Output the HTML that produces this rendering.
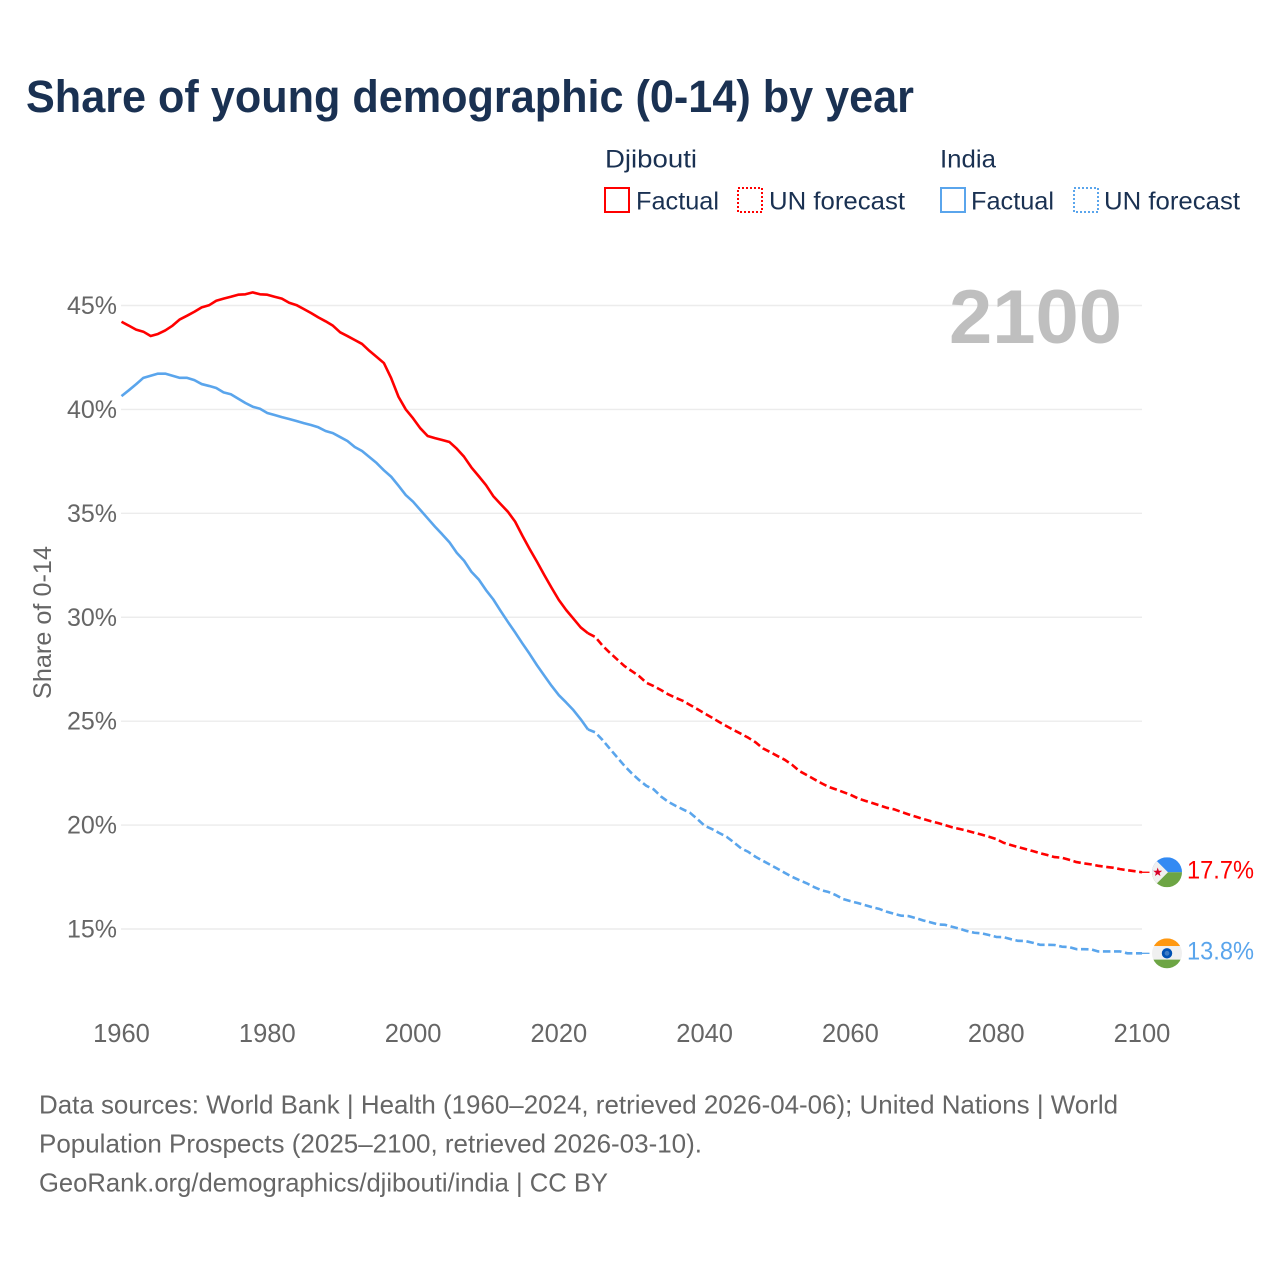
<!DOCTYPE html>
<html lang="en">
<head>
<meta charset="utf-8">
<title>Share of young demographic (0-14) by year</title>
<style>
html,body{margin:0;padding:0;background:#fff;width:1280px;height:1280px;overflow:hidden}
svg{display:block}
text{font-family:"Liberation Sans",sans-serif}
</style>
</head>
<body>
<svg id="chart" xmlns="http://www.w3.org/2000/svg" width="1280" height="1280" viewBox="0 0 1280 1280">
  <defs>
    <clipPath id="flag-clip-dj"><circle id="clip-dj" cx="1167" cy="872" r="15"/></clipPath>
    <clipPath id="flag-clip-in"><circle id="clip-in" cx="1167" cy="953" r="15"/></clipPath>
  </defs>
  <text x="26" y="112" font-size="45" font-weight="700" fill="#1a3152" textLength="888" lengthAdjust="spacingAndGlyphs">Share of young demographic (0-14) by year</text>

  <g font-size="25" fill="#1a3152">
    <text x="605" y="167.5" textLength="92" lengthAdjust="spacingAndGlyphs">Djibouti</text>
    <text x="940" y="167.5" textLength="56" lengthAdjust="spacingAndGlyphs">India</text>
    <rect x="605" y="188" width="24" height="24" fill="none" stroke="#ff0000" stroke-width="2"/>
    <text x="636" y="209.5" textLength="83" lengthAdjust="spacingAndGlyphs">Factual</text>
    <rect x="738" y="188" width="24" height="24" fill="none" stroke="#ff0000" stroke-width="2" stroke-dasharray="2 2"/>
    <text x="769" y="209.5" textLength="136" lengthAdjust="spacingAndGlyphs">UN forecast</text>
    <rect x="941" y="188" width="24" height="24" fill="none" stroke="#5aa5ec" stroke-width="2"/>
    <text x="971" y="209.5" textLength="83" lengthAdjust="spacingAndGlyphs">Factual</text>
    <rect x="1074" y="188" width="24" height="24" fill="none" stroke="#5aa5ec" stroke-width="2" stroke-dasharray="2 2"/>
    <text x="1104" y="209.5" textLength="136" lengthAdjust="spacingAndGlyphs">UN forecast</text>
  </g>

  <g id="grid"></g>
  <g id="ytick"></g>
  <g id="xtick"></g>

  <text x="949" y="343" font-size="76" font-weight="700" fill="#bfbfbf" textLength="173" lengthAdjust="spacingAndGlyphs">2100</text>
  <text transform="translate(51,699) rotate(-90)" font-size="25" fill="#666666" textLength="153" lengthAdjust="spacingAndGlyphs">Share of 0-14</text>

  <g id="lines"></g>

  <g id="flag-dj" clip-path="url(#flag-clip-dj)"></g>
  <g id="flag-in" clip-path="url(#flag-clip-in)"></g>
  <g id="endlabels"></g>

  <g font-size="26" fill="#666666">
    <text x="39" y="1113.5" textLength="1079" lengthAdjust="spacingAndGlyphs">Data sources: World Bank | Health (1960–2024, retrieved 2026-04-06); United Nations | World</text>
    <text x="39" y="1152.5" textLength="663" lengthAdjust="spacingAndGlyphs">Population Prospects (2025–2100, retrieved 2026-03-10).</text>
    <text x="39" y="1191.5" textLength="569" lengthAdjust="spacingAndGlyphs">GeoRank.org/demographics/djibouti/india | CC BY</text>
  </g>
</svg>
<script>
const xTicks = [1960, 1980, 2000, 2020, 2040, 2060, 2080, 2100];
const yTicks = [15, 20, 25, 30, 35, 40, 45];
const factualStartYear = 1960;
const forecastStartYear = 2025;
const djiboutiFactual = [
  44.22,44.03,43.84,43.74,43.53,43.63,43.80,44.03,44.33,44.51,
  44.70,44.91,45.01,45.23,45.33,45.42,45.52,45.54,45.63,45.54,
  45.52,45.42,45.33,45.13,45.02,44.83,44.64,44.43,44.24,44.03,
  43.71,43.53,43.34,43.15,42.82,42.53,42.23,41.50,40.61,40.00,
  39.57,39.09,38.72,38.62,38.53,38.43,38.11,37.72,37.21,36.79,
  36.36,35.83,35.45,35.08,34.60,33.92,33.28,32.67,32.03,31.42,
  30.83,30.35,29.93,29.51,29.23
];
const djiboutiForecast = [
  29.05,28.63,28.29,27.97,27.65,
  27.41,27.17,26.85,26.69,26.50,26.29,26.13,25.98,25.78,25.58,
  25.37,25.17,24.96,24.76,24.57,24.39,24.20,23.98,23.69,23.51,
  23.32,23.14,22.90,22.60,22.41,22.21,22.02,21.84,21.72,21.59,
  21.46,21.29,21.17,21.06,20.95,20.83,20.76,20.63,20.51,20.40,
  20.29,20.19,20.10,20.00,19.89,19.81,19.73,19.63,19.54,19.44,
  19.33,19.15,19.04,18.94,18.85,18.75,18.65,18.56,18.46,18.43,
  18.33,18.22,18.16,18.11,18.04,17.99,17.95,17.88,17.83,17.78,
  17.73
];
const indiaFactual = [
  40.64,40.92,41.21,41.52,41.62,41.72,41.72,41.62,41.52,41.52,
  41.41,41.22,41.13,41.03,40.82,40.73,40.52,40.31,40.13,40.03,
  39.83,39.73,39.63,39.54,39.44,39.34,39.25,39.14,38.96,38.86,
  38.67,38.48,38.19,38.00,37.71,37.42,37.07,36.76,36.33,35.88,
  35.56,35.16,34.76,34.36,33.99,33.60,33.10,32.72,32.19,31.82,
  31.31,30.86,30.31,29.78,29.27,28.74,28.23,27.69,27.19,26.70,
  26.25,25.90,25.53,25.09,24.60
];
const indiaForecast = [
  24.46,24.09,23.67,23.26,22.85,
  22.49,22.17,21.89,21.72,21.38,21.12,20.93,20.76,20.59,20.29,
  19.97,19.81,19.62,19.44,19.17,18.88,18.71,18.47,18.28,18.09,
  17.90,17.70,17.51,17.35,17.20,17.02,16.87,16.78,16.63,16.44,
  16.34,16.25,16.15,16.05,15.96,15.83,15.73,15.64,15.62,15.52,
  15.41,15.32,15.22,15.20,15.10,15.01,14.90,14.82,14.79,14.71,
  14.62,14.61,14.51,14.43,14.42,14.34,14.24,14.24,14.23,14.15,
  14.13,14.03,14.03,14.02,13.92,13.92,13.92,13.92,13.83,13.83,
  13.83
];

const NS = 'http://www.w3.org/2000/svg';
const RED = '#ff0000';
const BLUE = '#5aa5ec';
const GREY = '#666666';
const FLAG_X = 1167;

function xScale(year) { return 121.5 + (year - 1960) * (1142 - 121.5) / 140; }
function yScale(pct) { return 305.5 + (45 - pct) * (929 - 305.5) / 30; }

function make(tag, attrs, parent) {
  const el = document.createElementNS(NS, tag);
  for (const k in attrs) el.setAttribute(k, attrs[k]);
  parent.appendChild(el);
  return el;
}

function pathFrom(values, startYear, joinYear, joinValue) {
  const pts = values.map((v, i) => xScale(startYear + i).toFixed(2) + ' ' + yScale(v).toFixed(2));
  if (joinYear !== undefined) pts.unshift(xScale(joinYear).toFixed(2) + ' ' + yScale(joinValue).toFixed(2));
  return 'M' + pts.join('L');
}

const gridLayer = document.getElementById('grid');
const yLayer = document.getElementById('ytick');
const xLayer = document.getElementById('xtick');
const lineLayer = document.getElementById('lines');
const labelLayer = document.getElementById('endlabels');

yTicks.forEach(function (t) {
  const line = make('line', { x1: 121, x2: 1142, y1: yScale(t), y2: yScale(t), stroke: '#ececec', 'stroke-width': 1.4 }, gridLayer);
  
  
  const label = make('text', { x: 117, y: yScale(t) + 8.5, 'text-anchor': 'end', 'font-size': 25, fill: GREY }, yLayer);
  label.textContent = t + '%';
  
  
});

xTicks.forEach(function (t) {
  const label = make('text', { x: xScale(t), y: 1042, 'text-anchor': 'middle', 'font-size': 25.5, fill: GREY }, xLayer);
  label.textContent = t;
  
  
});

function drawSeries(factual, forecast, color) {
  const lastFactual = factual[factual.length - 1];
  const lastFactualYear = factualStartYear + factual.length - 1;
  const solid = make('path', { d: pathFrom(factual, factualStartYear), fill: 'none', stroke: color, 'stroke-width': 2.6, 'stroke-linejoin': 'round' }, lineLayer);
  
  
  const dashed = make('path', { d: pathFrom(forecast, forecastStartYear, lastFactualYear, lastFactual), fill: 'none', stroke: color, 'stroke-width': 2.6, 'stroke-dasharray': '7.5 3.6', 'stroke-linejoin': 'round' }, lineLayer);
  
  
  const endV = forecast[forecast.length - 1];
  const connector = make('line', { x1: xScale(2100), x2: 1149.5, y1: yScale(endV), y2: yScale(endV), stroke: color, 'stroke-width': 1.3 }, lineLayer);
  
  
  const label = make('text', { x: 1187, y: yScale(endV) + 6.2, 'font-size': 25, fill: color, textLength: 67, lengthAdjust: 'spacingAndGlyphs' }, labelLayer);
  label.textContent = endV.toFixed(1) + '%';
  
  
  return yScale(endV);
}

const djY = drawSeries(djiboutiFactual, djiboutiForecast, RED);
const inY = drawSeries(indiaFactual, indiaForecast, BLUE);

document.getElementById('clip-dj').setAttribute('cy', djY);
document.getElementById('clip-in').setAttribute('cy', inY);

const fd = document.getElementById('flag-dj');
const fi = document.getElementById('flag-in');

const djBlue = make('rect', { x: FLAG_X - 15, y: djY - 15, width: 30, height: 15, fill: '#338af3' }, fd);


const djGreen = make('rect', { x: FLAG_X - 15, y: djY, width: 30, height: 15, fill: '#6da544' }, fd);


const djTri = make('path', { d: 'M' + (FLAG_X - 16) + ' ' + (djY - 17) + 'L' + (FLAG_X + 1) + ' ' + djY + 'L' + (FLAG_X - 16) + ' ' + (djY + 17) + 'Z', fill: '#f0f0f0' }, fd);


let starPts = [];
for (let i = 0; i < 10; i++) {
  const r = i % 2 ? 1.9 : 4.7;
  const a = -Math.PI / 2 + i * Math.PI / 5;
  starPts.push((FLAG_X - 9.3 + r * Math.cos(a)).toFixed(2) + ',' + (djY + r * Math.sin(a)).toFixed(2));
}
const djStar = make('polygon', { points: starPts.join(' '), fill: '#d80027' }, fd);



const inWhite = make('rect', { x: FLAG_X - 15, y: inY - 15, width: 30, height: 30, fill: '#f0f0f0' }, fi);


const inOrange = make('rect', { x: FLAG_X - 15, y: inY - 15, width: 30, height: 7.7, fill: '#ff9811' }, fi);


const inGreen = make('rect', { x: FLAG_X - 15, y: inY + 6.3, width: 30, height: 8.7, fill: '#6da544' }, fi);


const inWheel = make('circle', { cx: FLAG_X, cy: inY, r: 5.2, fill: '#0052b4' }, fi);


const inHub = make('circle', { cx: FLAG_X, cy: inY, r: 2.4, fill: '#3f7cc4' }, fi);


</script>
</body>
</html>
